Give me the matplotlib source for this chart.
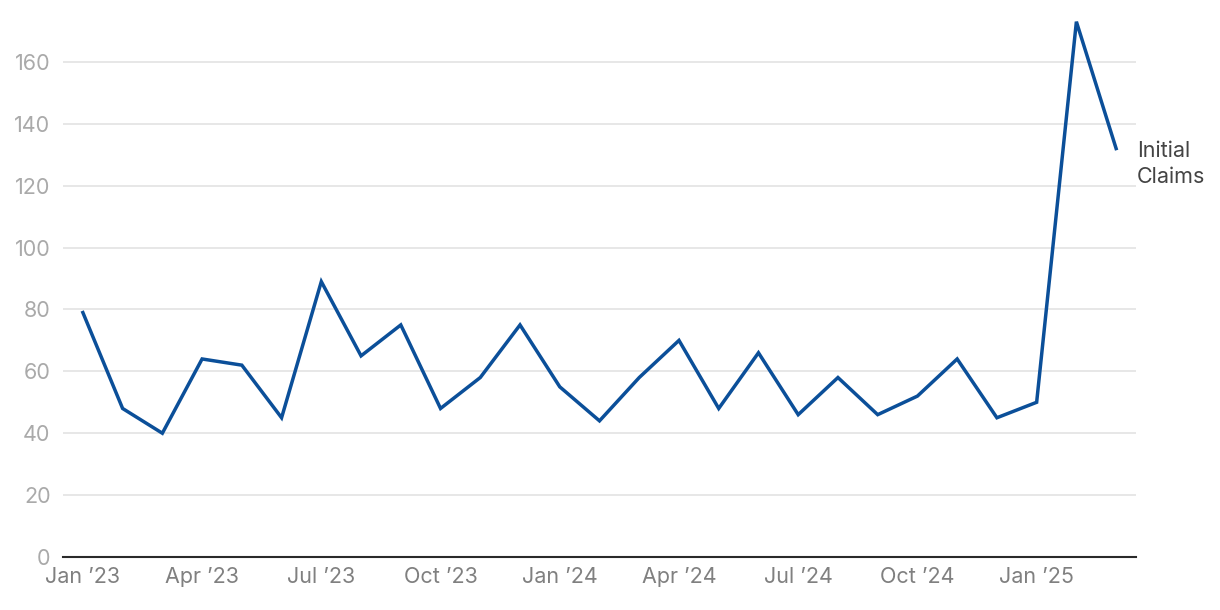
import matplotlib
matplotlib.use('Agg')
import matplotlib.pyplot as plt

months = ['Jan', 'Feb', 'Mar', 'Apr', 'May', 'Jun', 'Jul', 'Aug', 'Sep', 'Oct', 'Nov', 'Dec']
years = ['23', '24', '25']
dates = [m + ' \u2019' + y for y in years for m in months][:27]
claims = [79, 48, 40, 64, 62, 45, 89, 65, 75, 48, 58, 75,
          55, 44, 58, 70, 48, 66, 46, 58, 46, 52, 64, 45,
          50, 173, 132]
yticks = [0, 20, 40, 60, 80, 100, 120, 140, 160]
series_label = 'Initial\nClaims'

plt.rcParams['font.family'] = ['Inter', 'DejaVu Sans']

fig = plt.figure(figsize=(12.2, 6.1), dpi=100)
ax = fig.add_axes([63/1220, 53/610, (1136-63)/1220, 541.5/610])

x = list(range(len(claims)))
ax.plot(x, claims, color='#0b4f99', linewidth=2.5, solid_joinstyle='miter', clip_on=False)

ax.set_xlim(-0.5, len(claims) - 0.5)
ax.set_ylim(0, 175)
ax.set_yticks(yticks)
ax.set_xticks(x[::3])
ax.set_xticklabels(dates[::3])
ax.tick_params(axis='both', length=0, labelsize=15.5)
ax.tick_params(axis='y', colors='#aaaaaa', pad=9)
ax.tick_params(axis='x', colors='#808080', pad=7)
ax.grid(axis='y', color='#e3e3e3', linewidth=1.2)
ax.set_axisbelow(True)
for s in ['top', 'right', 'left']:
    ax.spines[s].set_visible(False)
ax.spines['bottom'].set_color('#2a2a2a')
ax.spines['bottom'].set_linewidth(1.5)
ax.spines['bottom'].set_zorder(3)

ax.text(len(claims) - 0.5 + 0.03, claims[-1] - 5, series_label, color='#444444',
        fontsize=15.5, ha='left', va='center', linespacing=1.4)

fig.savefig('out.png', dpi=100)
